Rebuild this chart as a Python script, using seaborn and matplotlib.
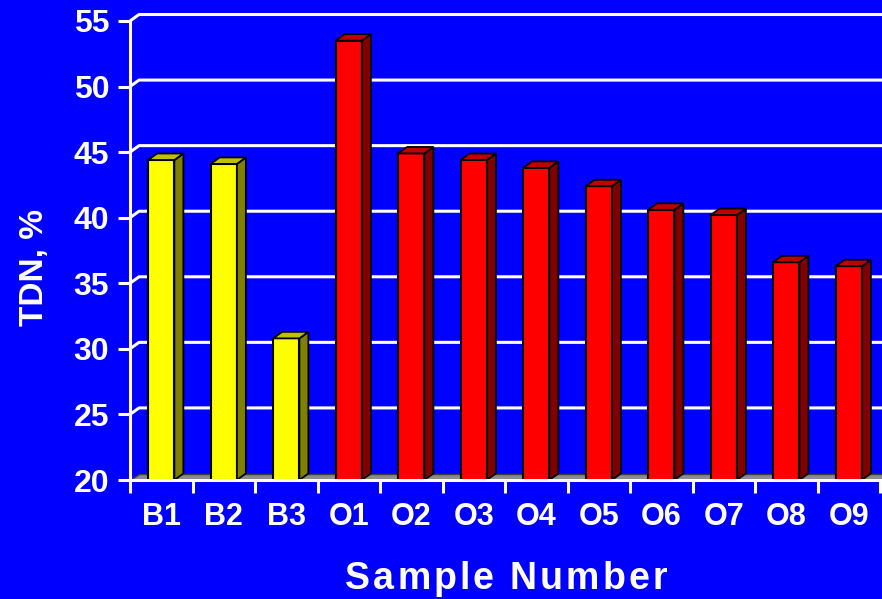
import matplotlib
matplotlib.use("Agg")
import matplotlib.pyplot as plt
from matplotlib.patches import Polygon
from matplotlib.lines import Line2D
from matplotlib.transforms import IdentityTransform
import seaborn as sns
import pandas as pd
import numpy as np

categories = ["B1", "B2", "B3", "O1", "O2", "O3", "O4", "O5", "O6", "O7", "O8", "O9"]
groups = ["B", "B", "B", "O", "O", "O", "O", "O", "O", "O", "O", "O"]
tdn = [44.4, 44.1, 30.8, 53.5, 44.9, 44.4, 43.8, 42.4, 40.6, 40.2, 36.6, 36.3]
yticks = [20, 25, 30, 35, 40, 45, 50, 55]

front = {"B": "#FFFF00", "O": "#FF0000"}
side = {"B": "#808000", "O": "#800000"}
top = {"B": "#C0C000", "O": "#C00000"}
BG = "#0000FF"

sns.set_theme(style="white")
plt.rcParams["font.family"] = ["Liberation Sans", "DejaVu Sans"]
plt.rcParams["font.weight"] = "bold"

df = pd.DataFrame({"cat": categories, "grp": groups, "tdn": tdn})

W, H = 882, 599
fig = plt.figure(figsize=(W / 100, H / 100), dpi=100, facecolor=BG)
ax = fig.add_axes([130 / W, 119 / H, 750 / W, 459 / H])
ax.set_facecolor(BG)

sns.barplot(data=df, x="cat", y="tdn", hue="grp", palette=front, dodge=False,
            saturation=1, width=0.42, edgecolor="black", linewidth=1.5,
            legend=False, ax=ax, zorder=5)

ax.set_ylim(20, 55)
ax.set_xlim(-0.5, 11.5)

DX, DY = 9, 6.5
T = ax.transData
ID = IdentityTransform()

# back-wall gridlines with diagonal connectors
for v in yticks[1:]:
    x0, y0 = T.transform((-0.5, v))
    ln = Line2D([x0, x0 + DX, W + 5], [y0, y0 + DY, y0 + DY], color="white",
                lw=2.2, transform=ID, zorder=1, solid_capstyle="butt")
    ln.set_clip_on(False)
    ax.add_artist(ln)

# floor
fx0, fy0 = T.transform((-0.5, 20))
floor = Polygon([[fx0, fy0], [W + 5, fy0], [W + 5, fy0 + DY], [fx0 + DX, fy0 + DY]],
                closed=True, facecolor="#8c8c8c", edgecolor="#404040", lw=1,
                transform=ID, zorder=2)
floor.set_clip_on(False)
ax.add_artist(floor)

# 3D faces for each bar
for patch, g in zip(list(ax.patches)[:len(categories)], groups):
    bx = patch.get_x()
    bw = patch.get_width()
    bh = patch.get_height()
    (px0, pyb) = T.transform((bx, 20))
    (px1, pyt) = T.transform((bx + bw, bh))
    sidep = Polygon([[px1, pyb], [px1, pyt], [px1 + DX, pyt + DY], [px1 + DX, pyb + DY]],
                    closed=True, facecolor=side[g], edgecolor="black", lw=1.3,
                    transform=ID, zorder=6)
    topp = Polygon([[px0, pyt], [px1, pyt], [px1 + DX, pyt + DY], [px0 + DX, pyt + DY]],
                   closed=True, facecolor=top[g], edgecolor="black", lw=1.3,
                   transform=ID, zorder=6)
    for p in (sidep, topp):
        p.set_clip_on(False)
        ax.add_artist(p)

# axes styling
for s in ["top", "right"]:
    ax.spines[s].set_visible(False)
for s in ["left", "bottom"]:
    ax.spines[s].set_color("white")
    ax.spines[s].set_linewidth(2.2)
    ax.spines[s].set_zorder(8)

ax.set_yticks(yticks)
ax.set_yticklabels([str(v) for v in yticks])
ax.tick_params(axis="y", colors="white", length=9, width=2.2, pad=6, labelsize=23,
               direction="out", left=True)
ax.set_xticks(np.arange(len(categories)))
ax.set_xticklabels(categories)
ax.set_xticks(np.arange(len(categories) + 1) - 0.5, minor=True)
ax.tick_params(axis="x", which="major", colors="white", length=0, pad=16, labelsize=22)
ax.tick_params(axis="x", which="minor", colors="white", length=9, width=2.2, bottom=True)
for lbl in ax.get_xticklabels() + ax.get_yticklabels():
    lbl.set_fontweight("bold")
ax.set_xlabel("")
ax.set_ylabel("")
ax.grid(False)

fig.text(35 / W, 1 - 267 / H, "TDN, %", rotation=90, ha="center", va="center",
         color="white", fontsize=24, fontweight="bold")

# letter-spaced x-axis title
title = "Sample Number"
renderer = fig.canvas.get_renderer()
fs = 27
spacing = 3.0
widths = []
for ch in title:
    t = fig.text(0, 0, ch if ch != " " else "n", fontsize=fs, fontweight="bold")
    w = t.get_window_extent(renderer).width
    if ch == " ":
        w = w * 0.45
    widths.append(w)
    t.remove()
total = sum(widths) + spacing * (len(title) - 1)
xc, yc = 506, H - 579
x = xc - total / 2
for ch, w in zip(title, widths):
    if ch != " ":
        fig.text(x / W, yc / H, ch, ha="left", va="center", color="white",
                 fontsize=fs, fontweight="bold")
    x += w + spacing

fig.savefig("out.png", dpi=100, facecolor=BG)
